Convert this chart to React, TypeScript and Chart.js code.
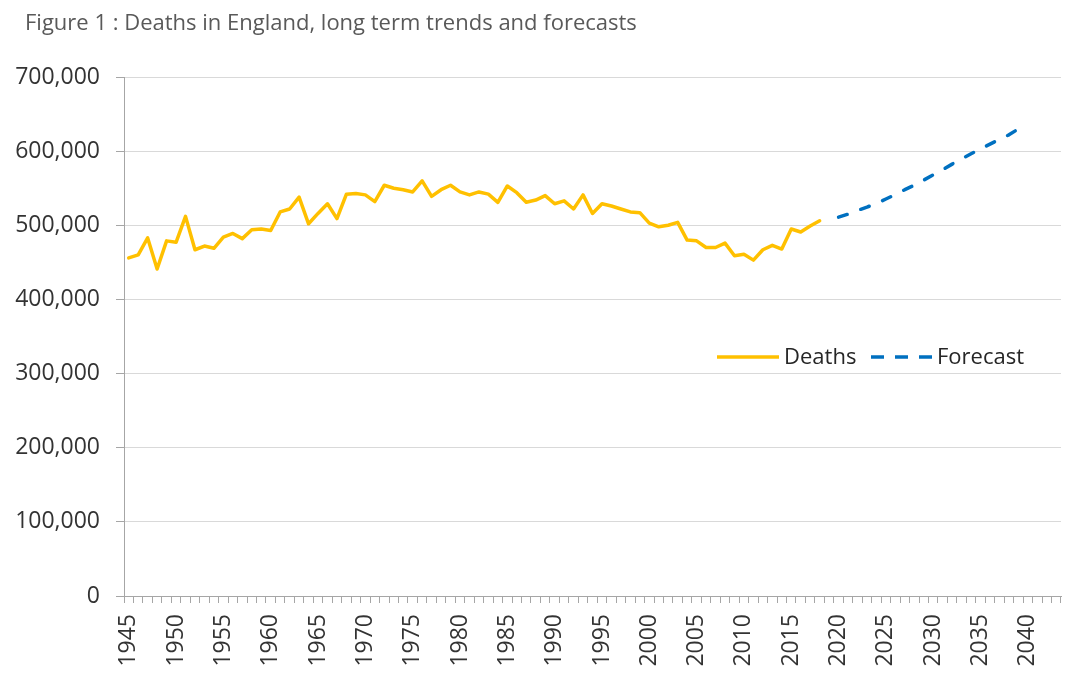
import React, { useEffect, useRef } from "react";
import { Chart, registerables } from "chart.js";

Chart.register(...registerables);

const TITLE = "Figure 1 : Deaths in England, long term trends and forecasts";
const FIRST_YEAR = 1945;
const LAST_YEAR = 2043;
const LABEL_EVERY = 5;

const deathsStartYear = 1945;
const deathsValues = [
  456000, 460000, 483000, 441000, 479000, 477000, 512000, 467000, 472000, 469000,
  484000, 489000, 482000, 494000, 495000, 493000, 518000, 522000, 538000, 502000,
  516000, 529000, 509000, 542000, 543000, 541000, 532000, 554000, 550000, 548000,
  545000, 560000, 539000, 548000, 554000, 545000, 541000, 545000, 542000, 531000,
  553000, 544000, 531000, 534000, 540000, 529000, 533000, 522000, 541000, 516000,
  529000, 526000, 522000, 518000, 517000, 503000, 498000, 500000, 504000, 480000,
  479000, 470000, 470000, 476000, 459000, 461000, 453000, 467000, 473000, 468000,
  495000, 491000, 499000, 506000,
];

const forecastStartYear = 2020;
const forecastValues = [
  511000, 515000, 520000, 524500, 529500, 535500, 541500, 548000, 554000, 561000,
  568000, 575000, 582500, 589500, 596500, 603000, 609500, 616000, 622000, 630000,
];

const yTickValues = [0, 100000, 200000, 300000, 400000, 500000, 600000, 700000];

const SERIES_NAMES = ["Deaths", "Forecast"];
const COLORS = ["#FFC000", "#0070C0"];

const FONT = "'Open Sans', 'Noto Sans', sans-serif";

function buildSeries(startYear: number, values: number[], years: number[]) {
  return years.map((y) => {
    const i = y - startYear;
    return i >= 0 && i < values.length ? values[i] : null;
  });
}

export default function App() {
  const canvasRef = useRef<HTMLCanvasElement | null>(null);

  useEffect(() => {
    const canvas = canvasRef.current;
    if (!canvas) return;
    const years: number[] = [];
    for (let y = FIRST_YEAR; y <= LAST_YEAR; y++) years.push(y);

    const titlePlugin = {
      id: "customTitle",
      afterDraw(chart: any) {
        const ctx = chart.ctx;
        ctx.save();
        ctx.font = `22px ${FONT}`;
        ctx.fillStyle = "#595959";
        ctx.textAlign = "left";
        ctx.textBaseline = "alphabetic";
        ctx.fillText(TITLE, 25, 29.5);
        ctx.restore();
      },
    };

    const legendPlugin = {
      id: "customLegend",
      afterDraw(chart: any) {
        const ctx = chart.ctx;
        const area = chart.chartArea;
        const y = area.top + 280;
        const r = area.right;
        ctx.save();
        ctx.font = `22px ${FONT}`;
        ctx.textBaseline = "middle";
        ctx.textAlign = "left";
        // Deaths
        ctx.strokeStyle = COLORS[0];
        ctx.lineWidth = 3.5;
        ctx.lineCap = "butt";
        ctx.setLineDash([]);
        ctx.beginPath();
        ctx.moveTo(r - 344, y);
        ctx.lineTo(r - 282, y);
        ctx.stroke();
        ctx.fillStyle = "#262626";
        ctx.fillText(SERIES_NAMES[0], r - 277, y + 1);
        // Forecast
        ctx.strokeStyle = COLORS[1];
        ctx.setLineDash([13, 11]);
        ctx.beginPath();
        ctx.moveTo(r - 190, y);
        ctx.lineTo(r - 127, y);
        ctx.stroke();
        ctx.setLineDash([]);
        ctx.fillText(SERIES_NAMES[1], r - 124, y + 1);
        ctx.restore();
      },
    };

    const chart = new Chart(canvas, {
      type: "line",
      data: {
        labels: years.map(String),
        datasets: [
          {
            label: SERIES_NAMES[0],
            data: buildSeries(deathsStartYear, deathsValues, years),
            borderColor: COLORS[0],
            backgroundColor: COLORS[0],
            borderWidth: 3.5,
            pointRadius: 0,
            tension: 0,
            borderJoinStyle: "round",
            borderCapStyle: "round",
            spanGaps: false,
          },
          {
            label: SERIES_NAMES[1],
            data: buildSeries(forecastStartYear, forecastValues, years),
            borderColor: COLORS[1],
            backgroundColor: COLORS[1],
            borderWidth: 3.5,
            borderDash: [9, 14.5],
            pointRadius: 0,
            tension: 0,
            borderJoinStyle: "round",
            borderCapStyle: "round",
            spanGaps: false,
          },
        ],
      },
      options: {
        animation: false,
        responsive: false,
        devicePixelRatio: 1,
        layout: { padding: { top: 77, right: 17, left: 0, bottom: 0 } },
        plugins: {
          legend: { display: false },
          tooltip: { enabled: false },
          title: { display: false },
        },
        scales: {
          x: {
            type: "category",
            offset: true,
            grid: {
              offset: true,
              drawOnChartArea: false,
              drawTicks: true,
              tickLength: 7,
              tickColor: "#a6a6a6",
              tickWidth: 1,
            },
            border: { display: true, color: "#a6a6a6", width: 1 },
            ticks: {
              autoSkip: false,
              maxRotation: 90,
              minRotation: 90,
              padding: 11,
              color: "#333333",
              font: { family: FONT, size: 23 },
              callback: (_v: any, idx: number) => {
                const yr = years[idx];
                return yr % LABEL_EVERY === 0 ? String(yr) : "";
              },
            },
            afterFit: (scale: any) => {
              scale.height = 84;
              scale.paddingRight = 0;
              scale.paddingLeft = 0;
            },
          },
          y: {
            min: yTickValues[0],
            max: yTickValues[yTickValues.length - 1],
            afterBuildTicks: (scale: any) => {
              scale.ticks = yTickValues.map((v) => ({ value: v }));
            },
            grid: {
              color: "#d9d9d9",
              lineWidth: 1,
              drawTicks: true,
              tickLength: 8,
              tickColor: "#a6a6a6",
            },
            border: { display: true, color: "#a6a6a6", width: 1 },
            ticks: {
              padding: 16,
              color: "#333333",
              font: { family: FONT, size: 23 },
              callback: (v: any) => Number(v).toLocaleString("en-US"),
            },
            afterFit: (scale: any) => {
              scale.width = 124;
            },
          },
        },
      },
      plugins: [titlePlugin, legendPlugin],
    } as any);

    return () => {
      chart.destroy();
    };
  }, []);

  return (
    <div
      style={{
        position: "absolute",
        left: 0,
        top: 0,
        width: 1078,
        height: 680,
        background: "#ffffff",
      }}
    >
      <canvas ref={canvasRef} width={1078} height={680} style={{ display: "block" }} />
    </div>
  );
}
